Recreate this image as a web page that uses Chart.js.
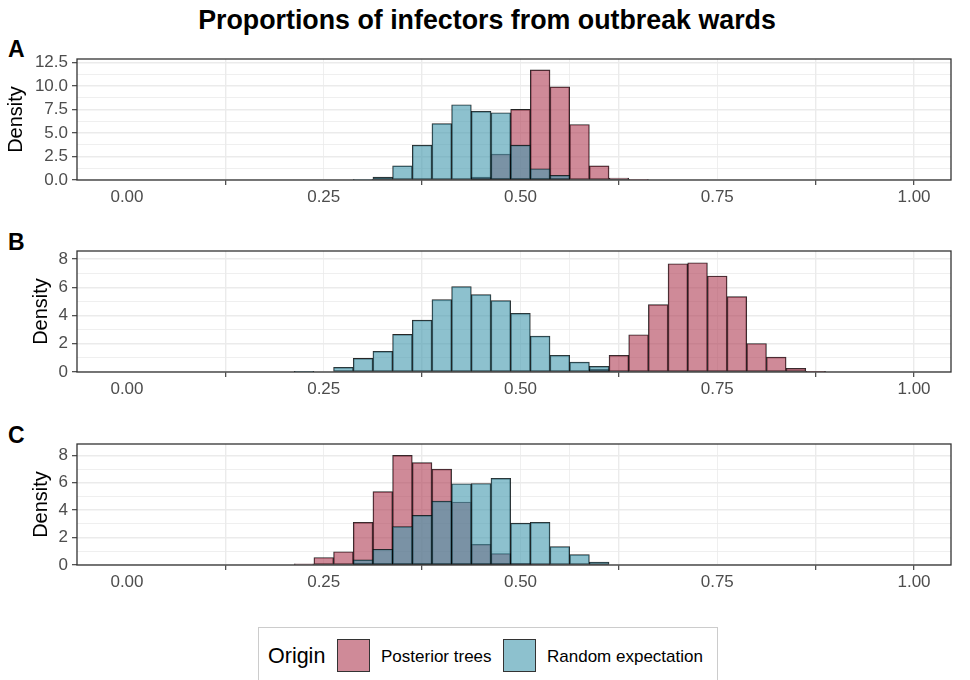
<!DOCTYPE html>
<html>
<head>
<meta charset="utf-8">
<script src="https://cdn.jsdelivr.net/npm/chart.js@4.4.1/dist/chart.umd.min.js"></script>
<style>
  body { margin: 0; width: 970px; height: 680px; background: #fff; position: relative; overflow: hidden;
         font-family: "Liberation Sans", Arial, Helvetica, sans-serif; }
  #title { position: absolute; left: 0; width: 974px; top: 7px; text-align: center;
           font-size: 26.8px; line-height: 26.8px; font-weight: bold; color: #000; }
  .tag { position: absolute; left: 8px; font-size: 23px; line-height: 23px; font-weight: bold; color: #000; }
  canvas { position: absolute; left: 0; }
  #legend { position: absolute; left: 258px; top: 627px; width: 460px; height: 70px;
            border: 1.7px solid #cccccc; box-sizing: border-box; }
  .ltext { position: absolute; color: #000; white-space: nowrap; }
  .key { position: absolute; width: 33px; height: 33px; box-sizing: border-box; border: 1px solid #333; }
</style>
</head>
<body>
<div id="title">Proportions of infectors from outbreak wards</div>
<div class="tag" style="top:38px">A</div>
<div class="tag" style="top:231px">B</div>
<div class="tag" style="top:424px">C</div>
<canvas id="panelA" width="970" height="166" style="top:50px"></canvas>
<canvas id="panelB" width="970" height="166" style="top:242px"></canvas>
<canvas id="panelC" width="970" height="166" style="top:435px"></canvas>
<div class="ltext" style="left:268px;top:646px;font-size:21.5px;line-height:21.5px">Origin</div>
<div class="key" id="keyPost" style="left:337px;top:639px"></div>
<div class="ltext" style="left:381px;top:648px;font-size:17px;line-height:17px">Posterior trees</div>
<div class="key" id="keyRand" style="left:503px;top:639px"></div>
<div class="ltext" style="left:547px;top:648px;font-size:17px;line-height:17px">Random expectation</div>
<div id="legend"></div>
<script>
// bin centres (bin width 0.025)
const bins = [0.225, 0.25, 0.275, 0.3, 0.325, 0.35, 0.375, 0.4, 0.425, 0.45, 0.475, 0.5, 0.525, 0.55,
  0.575, 0.6, 0.625, 0.65, 0.675, 0.7, 0.725, 0.75, 0.775, 0.8, 0.825, 0.85, 0.875];

const posteriorA = [0, 0, 0, 0, 0, 0, 0, 0, 0, 0.3, 2.75, 7.5, 11.7, 9.9, 5.9, 1.5, 0.2, 0.05, 0, 0, 0, 0, 0, 0, 0, 0, 0];
const randomA = [0, 0, 0, 0.05, 0.3, 1.5, 3.7, 6.0, 8.0, 7.3, 7.15, 3.7, 1.2, 0.5, 0, 0, 0, 0, 0, 0, 0, 0, 0, 0, 0, 0, 0];

const posteriorB = [0, 0, 0, 0, 0, 0, 0, 0, 0, 0, 0, 0, 0, 0, 0, 0.2, 1.18, 2.64, 4.78, 7.67, 7.74, 6.8, 5.34, 2.02, 1.06, 0.26, 0.03];
const randomB = [0.03, 0, 0.33, 0.96, 1.46, 2.66, 3.67, 5.13, 6.05, 5.48, 5.06, 4.16, 2.54, 1.18, 0.7, 0.4, 0.05, 0, 0, 0, 0, 0, 0, 0, 0, 0, 0];

const posteriorC = [0.08, 0.55, 0.97, 3.12, 5.36, 8.0, 7.48, 7.0, 4.6, 1.51, 0.83, 0.12, 0.05, 0, 0, 0, 0, 0, 0, 0, 0, 0, 0, 0, 0, 0, 0];
const randomC = [0, 0, 0, 0.38, 1.15, 2.8, 3.62, 4.66, 5.93, 5.95, 6.32, 3.05, 3.12, 1.34, 0.76, 0.22, 0, 0, 0, 0, 0, 0, 0, 0, 0, 0, 0];

const xMajor = [0, 0.25, 0.5, 0.75, 1];
const xLabels = ["0.00", "0.25", "0.50", "0.75", "1.00"];
const xMinor = [0.125, 0.375, 0.625, 0.875];

const yMajorA = [0, 2.5, 5, 7.5, 10, 12.5];
const yLabelsA = ["0.0", "2.5", "5.0", "7.5", "10.0", "12.5"];
const yMinorA = [1.25, 3.75, 6.25, 8.75, 11.25];

const yMajorBC = [0, 2, 4, 6, 8];
const yLabelsBC = ["0", "2", "4", "6", "8"];
const yMinorBC = [1, 3, 5, 7];

const postFill = "rgba(175, 60, 83, 0.6)";
const randFill = "rgba(65, 152, 173, 0.6)";
document.getElementById("keyPost").style.background = postFill;
document.getElementById("keyRand").style.background = randFill;

const FONT = "'Liberation Sans', Arial, Helvetica, sans-serif";

function toPoints(values) {
  const pts = [];
  values.forEach(function (v, i) {
    if (v > 0) pts.push({ x: bins[i], y: v });
  });
  return pts;
}

function axisTicks(major, labels, minor) {
  return {
    build: function (scale) {
      scale.ticks = major.map(function (v) { return { value: v }; })
        .concat(minor.map(function (v) { return { value: v }; }));
    },
    label: function (value) {
      const i = major.indexOf(value);
      return i >= 0 ? labels[i] : "";
    },
    isMajor: function (c) { return !c.tick || major.indexOf(c.tick.value) >= 0; }
  };
}

// full panel border, like theme_bw
const frame = {
  id: "frame",
  afterDraw: function (chart) {
    const a = chart.chartArea;
    const ctx = chart.ctx;
    ctx.save();
    ctx.strokeStyle = "#333333";
    ctx.lineWidth = 1.3;
    ctx.strokeRect(a.left, a.top, a.right - a.left, a.bottom - a.top);
    ctx.restore();
  }
};

function geraPainel(id, posterior, random, yMax, yt, padLeft) {
  const xt = axisTicks(xMajor, xLabels, xMinor);
  new Chart(document.getElementById(id).getContext("2d"), {
    type: "bar",
    data: {
      datasets: [
        {
          label: "Posterior trees",
          data: toPoints(posterior),
          backgroundColor: postFill,
          borderColor: "rgba(0, 0, 0, 0.85)",
          borderWidth: 0.8,
          borderSkipped: false,
          grouped: false,
          barPercentage: 1,
          categoryPercentage: 1,
          order: 2,
        },
        {
          label: "Random expectation",
          data: toPoints(random),
          backgroundColor: randFill,
          borderColor: "rgba(0, 0, 0, 0.85)",
          borderWidth: 0.8,
          borderSkipped: false,
          grouped: false,
          barPercentage: 1,
          categoryPercentage: 1,
          order: 1,
        },
      ],
    },
    options: {
      responsive: false,
      animation: false,
      layout: { padding: { top: 9, right: 19, left: padLeft, bottom: 0 } },
      plugins: { legend: { display: false }, tooltip: { enabled: false } },
      scales: {
        x: {
          type: "linear",
          offset: false,
          min: -0.0635,
          max: 1.047,
          afterBuildTicks: xt.build,
          afterFit: function (s) { s.height = 36; s.paddingLeft = 0; s.paddingRight = 0; },
          border: { display: false },
          grid: {
            color: "#ebebeb",
            lineWidth: function (c) { return xt.isMajor(c) ? 1.4 : 0.8; },
            tickColor: function (c) { return xt.isMajor(c) ? "#333333" : "rgba(0,0,0,0)"; },
            tickLength: 5,
            tickWidth: 1.1,
          },
          ticks: {
            autoSkip: false,
            maxRotation: 0,
            padding: 2,
            color: "#4d4d4d",
            font: { size: 17, family: FONT },
            callback: xt.label,
          },
        },
        y: {
          min: 0,
          max: yMax,
          afterBuildTicks: yt.build,
          afterFit: function (s) { s.width = 77 - padLeft; s.paddingTop = 0; s.paddingBottom = 0; },
          border: { display: false },
          grid: {
            color: "#ebebeb",
            lineWidth: function (c) { return yt.isMajor(c) ? 1.4 : 0.8; },
            tickColor: function (c) { return yt.isMajor(c) ? "#333333" : "rgba(0,0,0,0)"; },
            tickLength: 5,
            tickWidth: 1.1,
          },
          ticks: {
            autoSkip: false,
            padding: 4,
            color: "#4d4d4d",
            font: { size: 17, family: FONT },
            callback: yt.label,
          },
          title: {
            display: true,
            text: "Density",
            color: "#000000",
            padding: 0,
            font: { size: 20, family: FONT },
          },
        },
      },
    },
    plugins: [frame],
  });
}

geraPainel("panelA", posteriorA, randomA, 12.86, axisTicks(yMajorA, yLabelsA, yMinorA), 4);
geraPainel("panelB", posteriorB, randomB, 8.57, axisTicks(yMajorBC, yLabelsBC, yMinorBC), 29);
geraPainel("panelC", posteriorC, randomC, 8.83, axisTicks(yMajorBC, yLabelsBC, yMinorBC), 29);
</script>
</body>
</html>
